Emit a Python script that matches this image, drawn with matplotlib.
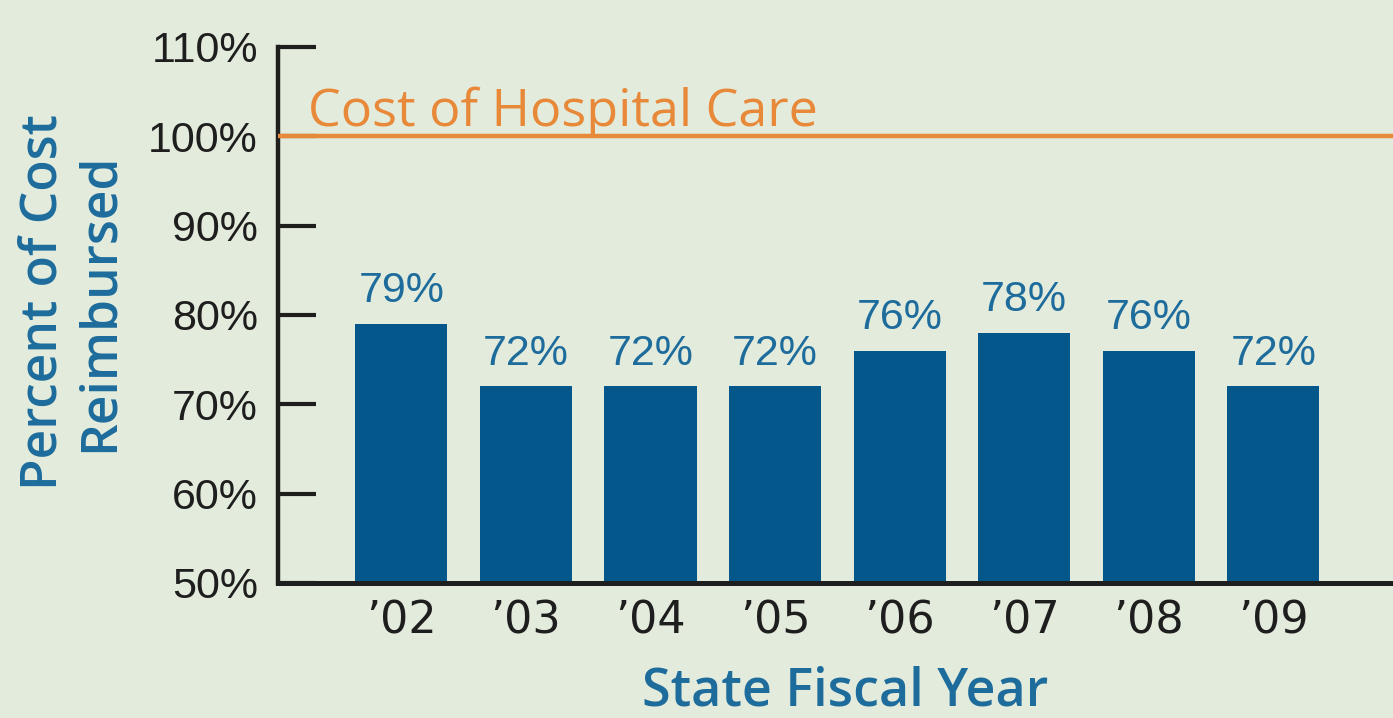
import matplotlib
matplotlib.use("Agg")
import matplotlib.pyplot as plt

years = ["’02", "’03", "’04", "’05", "’06", "’07", "’08", "’09"]
values = [79, 72, 72, 72, 76, 78, 76, 72]
value_labels = ["79%", "72%", "72%", "72%", "76%", "78%", "76%", "72%"]
yticks = [50, 60, 70, 80, 90, 100, 110]
ytick_labels = ["50%", "60%", "70%", "80%", "90%", "100%", "110%"]
cost_level = 100

BG = "#e3ebdc"
BAR = "#03578a"
BLUE = "#1d6c9c"
ORANGE = "#e8893a"
DARK = "#1e1e1e"

fig = plt.figure(figsize=(13.93, 7.18), dpi=100, facecolor=BG)
ax = fig.add_axes([278/1393, 1-583/718, 1-278/1393, (583-47)/718])
ax.set_facecolor(BG)

x = list(range(len(years)))
ax.bar(x, values, width=0.74, color=BAR, zorder=2)
ax.set_xlim(-0.99, 7.96)
ax.set_ylim(50, 110)

for xi, v, lab in zip(x, values, value_labels):
    ax.text(xi, v + 1.4, lab, ha="center", va="bottom", color=BLUE,
            fontsize=31, family="Liberation Sans")

ax.axhline(cost_level, color=ORANGE, lw=3.2, zorder=3)
ax.text(0.027, 101.2, "Cost of Hospital Care", transform=ax.get_yaxis_transform(),
        color=ORANGE, fontsize=37.5, family="Open Sans", ha="left", va="baseline")

for s in ["top", "right"]:
    ax.spines[s].set_visible(False)
ax.spines["left"].set_linewidth(3.2)
ax.spines["bottom"].set_linewidth(3.6)
ax.spines["left"].set_color(DARK)
ax.spines["bottom"].set_color(DARK)

ax.set_yticks(yticks)
ax.set_yticklabels(ytick_labels, family="Liberation Sans", fontsize=31, color=DARK)
ax.tick_params(axis="y", direction="in", length=27, width=3, color=DARK, pad=-0)
for lab in ax.get_yticklabels():
    lab.set_x(-0.018)
ax.set_xticks(x)
ax.set_xticklabels(years, family="Liberation Sans Narrow", fontsize=32, color=DARK)
ax.tick_params(axis="x", length=0, pad=12)

fig.text(845/1393, 1-692/718, "State Fiscal Year", ha="center", va="center",
         color=BLUE, fontsize=37.5, family="Open Sans", fontweight="semibold")
fig.text(44/1393, 1-302/718, "Percent of Cost", rotation=90, ha="center", va="center",
         color=BLUE, fontsize=37, family="Open Sans", fontweight="semibold")
fig.text(100/1393, 1-302/718, "Reimbursed", rotation=90, ha="center", va="center",
         color=BLUE, fontsize=37, family="Open Sans", fontweight="semibold")

fig.savefig("out.png", dpi=100, facecolor=BG)
